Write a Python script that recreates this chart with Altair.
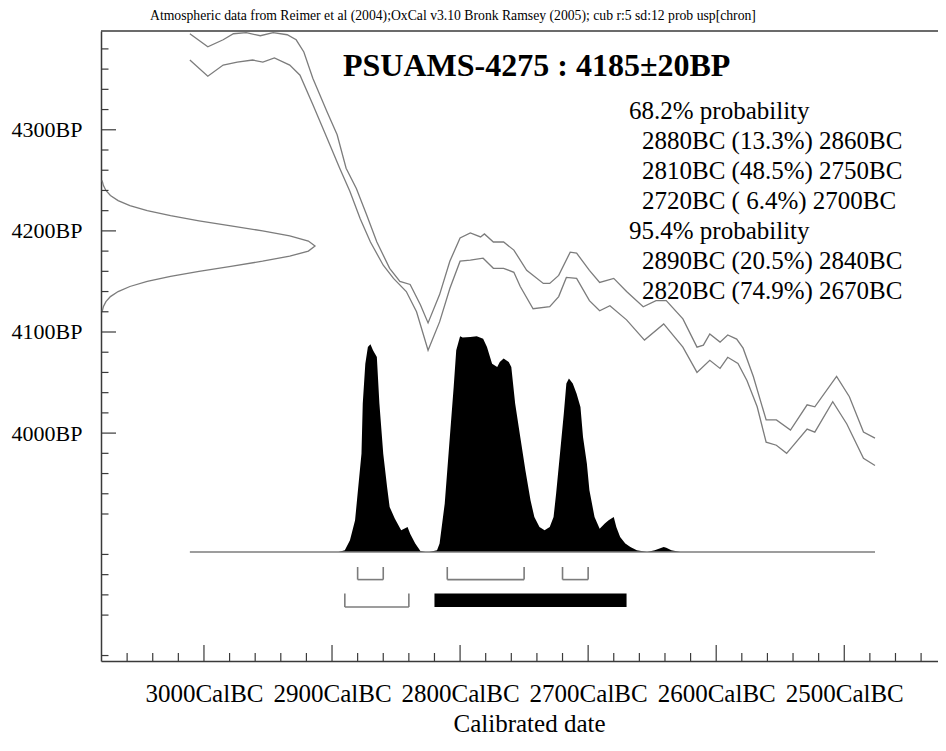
import altair as alt
import pandas as pd

# ---------------- data ----------------
header_text = "Atmospheric data from Reimer et al (2004);OxCal v3.10 Bronk Ramsey (2005); cub r:5 sd:12 prob usp[chron]"
sample_title = "PSUAMS-4275 : 4185\u00b120BP"

x_major = [3000, 2900, 2800, 2700, 2600, 2500]
y_major = [4000, 4100, 4200, 4300]

# calibration curve, upper and lower 1-sigma envelope (year BC, BP)
upper_year = [3011, 2997, 2985, 2977, 2967, 2956, 2946, 2935, 2928, 2922,
              2915, 2904, 2896, 2889, 2881, 2873, 2865, 2855, 2847, 2839,
              2831, 2825, 2816, 2808, 2800, 2792, 2784, 2781, 2774, 2766,
              2758, 2748, 2735, 2730, 2723, 2714, 2709, 2699, 2691, 2680,
              2670, 2657, 2647, 2639, 2626, 2615, 2610, 2605, 2597, 2591,
              2584, 2579, 2571, 2561, 2553, 2542, 2529, 2523, 2506, 2496,
              2485, 2476]
upper_bp = [4395, 4382, 4389, 4395, 4396, 4393, 4396, 4394, 4389, 4377,
            4351, 4318, 4295, 4262, 4242, 4216, 4189, 4163, 4150, 4147,
            4127, 4109, 4137, 4170, 4193, 4198, 4194, 4197, 4189, 4189,
            4181, 4161, 4148, 4148, 4156, 4179, 4178, 4161, 4149, 4153,
            4140, 4125, 4131, 4131, 4113, 4085, 4087, 4098, 4090, 4097,
            4093, 4084, 4056, 4013, 4013, 4003, 4028, 4026, 4056, 4036,
            4001, 3995]
lower_year = [3011, 2997, 2985, 2974, 2962, 2954, 2945, 2933, 2925, 2915,
              2904, 2894, 2886, 2878, 2870, 2860, 2852, 2842, 2834, 2825,
              2816, 2808, 2800, 2792, 2782, 2774, 2766, 2758, 2753, 2743,
              2730, 2723, 2717, 2709, 2699, 2691, 2683, 2670, 2656, 2641,
              2626, 2615, 2605, 2597, 2591, 2583, 2576, 2568, 2561, 2553,
              2545, 2529, 2523, 2509, 2498, 2485, 2476]
lower_bp = [4369, 4353, 4364, 4367, 4369, 4367, 4371, 4364, 4354, 4325,
            4292, 4262, 4239, 4212, 4189, 4166, 4153, 4140, 4120, 4082,
            4110, 4143, 4170, 4171, 4173, 4163, 4163, 4159, 4145, 4123,
            4125, 4135, 4154, 4153, 4131, 4121, 4126, 4112, 4092, 4108,
            4085, 4060, 4072, 4064, 4075, 4069, 4052, 4026, 3991, 3988,
            3980, 4004, 4001, 4031, 4009, 3975, 3968]

# radiocarbon measurement (BP, relative density)
gauss_bp = [4120, 4125, 4130, 4135, 4140, 4145, 4150, 4155, 4160, 4165,
            4170, 4175, 4180, 4185, 4190, 4195, 4200, 4205, 4210, 4215,
            4220, 4225, 4230, 4235, 4240, 4245, 4250]
gauss_dens = [0.005, 0.011, 0.023, 0.044, 0.080, 0.135, 0.216, 0.325, 0.458, 0.607,
              0.755, 0.882, 0.969, 1.000, 0.969, 0.882, 0.755, 0.607, 0.458, 0.325,
              0.216, 0.135, 0.080, 0.044, 0.023, 0.011, 0.005]

# calibrated probability distribution (year BC, relative probability)
dist_year = [2895, 2890, 2886, 2882, 2880, 2877, 2876, 2874, 2872, 2870,
             2868, 2865, 2863, 2860, 2857, 2855, 2851, 2846, 2841, 2839,
             2835, 2831, 2827, 2824, 2818, 2816, 2812, 2808, 2805, 2803,
             2800, 2798, 2792, 2787, 2782, 2779, 2775, 2771, 2769, 2766,
             2762, 2760, 2757, 2753, 2749, 2745, 2742, 2738, 2734, 2730,
             2727, 2725, 2722, 2719, 2717, 2715, 2712, 2709, 2706, 2704,
             2701, 2699, 2695, 2691, 2687, 2684, 2680, 2678, 2675, 2671,
             2667, 2662, 2654, 2648, 2641, 2639, 2635, 2628]
dist_prob = [0, 0.008, 0.054, 0.147, 0.271, 0.456, 0.688, 0.873, 0.950, 0.963,
             0.935, 0.904, 0.688, 0.456, 0.301, 0.209, 0.155, 0.101, 0.116, 0.085,
             0.039, 0.005, 0, 0, 0.008, 0.039, 0.224, 0.533, 0.765, 0.935,
             1.0, 0.994, 0.997, 1.0, 0.989, 0.950, 0.873, 0.858, 0.881, 0.897,
             0.881, 0.858, 0.688, 0.533, 0.379, 0.240, 0.162, 0.116, 0.101, 0.116,
             0.162, 0.271, 0.456, 0.642, 0.781, 0.804, 0.781, 0.734, 0.672, 0.533,
             0.410, 0.286, 0.162, 0.108, 0.132, 0.147, 0.162, 0.116, 0.070, 0.039,
             0.023, 0.008, 0, 0.008, 0.023, 0.020, 0.008, 0]

# calibrated ranges
r68_from = [2880, 2810, 2720]
r68_to = [2860, 2750, 2700]
r68_pct = [13.3, 48.5, 6.4]
r95_from = [2890, 2820]
r95_to = [2840, 2670]
r95_pct = [20.5, 74.9]

# ---------------- layout / style ----------------
W, H = 837, 630
FONT = "Liberation Serif"
GREY = "#7c7c7c"
DARK = "#3a3a3a"

G_MAX = 3.911
x_scale = alt.Scale(domain=[3080.4, 2426.8], nice=False, zero=False)
y_scale = alt.Scale(domain=[3774.6, 4397.7], nice=False, zero=False)
p_scale = alt.Scale(domain=[-0.5053, 2.4154], nice=False, zero=False)
g_scale = alt.Scale(domain=[0, G_MAX], nice=False, zero=False)
g_per_px = G_MAX / W

x_minor = [v for v in range(3060, 2430, -20) if v % 100 != 0]
y_minor = [v for v in range(3780, 4400, 20) if v % 100 != 0]

curve_df = pd.concat([
    pd.DataFrame({"year": upper_year, "bp": upper_bp, "series": "upper"}),
    pd.DataFrame({"year": lower_year, "bp": lower_bp, "series": "lower"}),
])

curves = alt.Chart(curve_df).mark_line(color=GREY, strokeWidth=1.3, clip=True).encode(
    x=alt.X("year:Q", scale=x_scale,
            axis=alt.Axis(values=x_major, labelExpr="datum.value + 'CalBC'",
                          ticks=False, tickSize=0, grid=False,
                          domainColor=DARK, domainWidth=1.5,
                          labelFont=FONT, labelFontSize=25, labelColor="black",
                          labelPadding=20, labelFlush=False, labelOverlap=False,
                          title="Calibrated date", titleFont=FONT, titleFontSize=25,
                          titleFontWeight="normal", titleColor="black",
                          titleX=428, titleY=70, titleBaseline="alphabetic")),
    y=alt.Y("bp:Q", scale=y_scale,
            axis=alt.Axis(values=y_major, labelExpr="datum.value + 'BP'",
                          ticks=False, tickSize=0, grid=False,
                          domainColor=DARK, domainWidth=1.5,
                          labelFont=FONT, labelFontSize=22, labelColor="black",
                          labelPadding=19, labelFlush=False, labelOverlap=False,
                          title="")),
    detail="series:N",
)

gauss = alt.Chart(pd.DataFrame({"d": gauss_dens, "bp": gauss_bp})).mark_line(
    color=GREY, strokeWidth=1.3).encode(
    x=alt.X("d:Q", scale=g_scale, axis=None),
    y=alt.Y("bp:Q", scale=y_scale, axis=None),
    order="bp:Q",
)

dist = alt.Chart(pd.DataFrame({"year": dist_year, "p": dist_prob})).mark_area(
    color="black", opacity=1).encode(
    x=alt.X("year:Q", scale=x_scale, axis=None),
    y=alt.Y("p:Q", scale=p_scale, axis=None),
    y2=alt.datum(0),
)

baseline = alt.Chart(pd.DataFrame({"x0": [upper_year[0]], "x1": [upper_year[-1]], "p": [0]})).mark_rule(
    color=GREY, strokeWidth=1.5).encode(
    x=alt.X("x0:Q", scale=x_scale, axis=None),
    x2="x1:Q",
    y=alt.Y("p:Q", scale=p_scale, axis=None),
)

df68 = pd.DataFrame({"a": r68_from, "b": r68_to})
max95 = max(r95_pct)
df95_open = pd.DataFrame({"a": [f for f, p in zip(r95_from, r95_pct) if p != max95],
                          "b": [t for t, p in zip(r95_to, r95_pct) if p != max95]})
df95_fill = pd.DataFrame({"a": [f for f, p in zip(r95_from, r95_pct) if p == max95],
                          "b": [t for t, p in zip(r95_to, r95_pct) if p == max95]})


def bracket(df, top, bottom):
    base = alt.Chart(df)
    h = base.mark_rule(color=GREY, strokeWidth=1.6).encode(
        x=alt.X("a:Q", scale=x_scale, axis=None), x2="b:Q", y=alt.value(bottom))
    l = base.mark_rule(color=GREY, strokeWidth=1.6).encode(
        x=alt.X("a:Q", scale=x_scale, axis=None), y=alt.value(top), y2=alt.value(bottom))
    r = base.mark_rule(color=GREY, strokeWidth=1.6).encode(
        x=alt.X("b:Q", scale=x_scale, axis=None), y=alt.value(top), y2=alt.value(bottom))
    return [h, l, r]


brackets68 = bracket(df68, 536, 548.6)
brackets95 = bracket(df95_open, 562.6, 576)
fill95 = alt.Chart(df95_fill).mark_rect(color="black").encode(
    x=alt.X("a:Q", scale=x_scale, axis=None), x2="b:Q",
    y=alt.value(562.6), y2=alt.value(576))

# inward ticks
xt_major = alt.Chart(pd.DataFrame({"v": x_major})).mark_rule(color=DARK, strokeWidth=1.2).encode(
    x=alt.X("v:Q", scale=x_scale, axis=None), y=alt.value(H), y2=alt.value(H - 16))
xt_minor = alt.Chart(pd.DataFrame({"v": x_minor})).mark_rule(color=DARK, strokeWidth=1.2).encode(
    x=alt.X("v:Q", scale=x_scale, axis=None), y=alt.value(H), y2=alt.value(H - 8))
yt_major = alt.Chart(pd.DataFrame({"v": y_major})).mark_rule(color=DARK, strokeWidth=1.2).encode(
    y=alt.Y("v:Q", scale=y_scale, axis=None),
    x=alt.XDatum(0, scale=g_scale, axis=None),
    x2=alt.X2Datum(15 * g_per_px))
yt_minor = alt.Chart(pd.DataFrame({"v": y_minor})).mark_rule(color=DARK, strokeWidth=1.2).encode(
    y=alt.Y("v:Q", scale=y_scale, axis=None),
    x=alt.XDatum(0, scale=g_scale, axis=None),
    x2=alt.X2Datum(7.5 * g_per_px))

top_frame = alt.Chart(pd.DataFrame({"k": [0]})).mark_rule(color=DARK, strokeWidth=1.3).encode(
    x=alt.value(0), x2=alt.value(W), y=alt.value(0))


def label(text, x, y, size, weight="normal"):
    return alt.Chart(pd.DataFrame({"t": [text]})).mark_text(
        align="left", baseline="alphabetic", font=FONT, fontSize=size,
        fontWeight=weight, color="black").encode(
        x=alt.value(x), y=alt.value(y), text="t:N")


texts = [
    label(header_text, 49, -10.7, 13.7),
    label(sample_title, 242, 45.3, 32, "bold"),
]
lines = [("68.2% probability", 0)]
lines += [(f"{a}BC ({p:4.1f}%) {b}BC", 1) for a, b, p in zip(r68_from, r68_to, r68_pct)]
lines += [("95.4% probability", 0)]
lines += [(f"{a}BC ({p:4.1f}%) {b}BC", 1) for a, b, p in zip(r95_from, r95_to, r95_pct)]
for i, (txt, indent) in enumerate(lines):
    texts.append(label(txt, 541 if indent else 528, 88.3 + 30 * i, 25))

chart = alt.layer(
    curves, gauss, dist, baseline,
    *brackets68, *brackets95, fill95,
    xt_major, xt_minor, yt_major, yt_minor, top_frame,
    *texts,
).resolve_scale(x="independent", y="independent").properties(
    width=W, height=H,
    padding={"left": 93, "top": 23, "right": 0, "bottom": 77},
    autosize=alt.AutoSizeParams(type="none"),
    background="white",
).configure_view(stroke=None)

chart.save("out.html", embed_options={"renderer": "svg", "actions": False})
